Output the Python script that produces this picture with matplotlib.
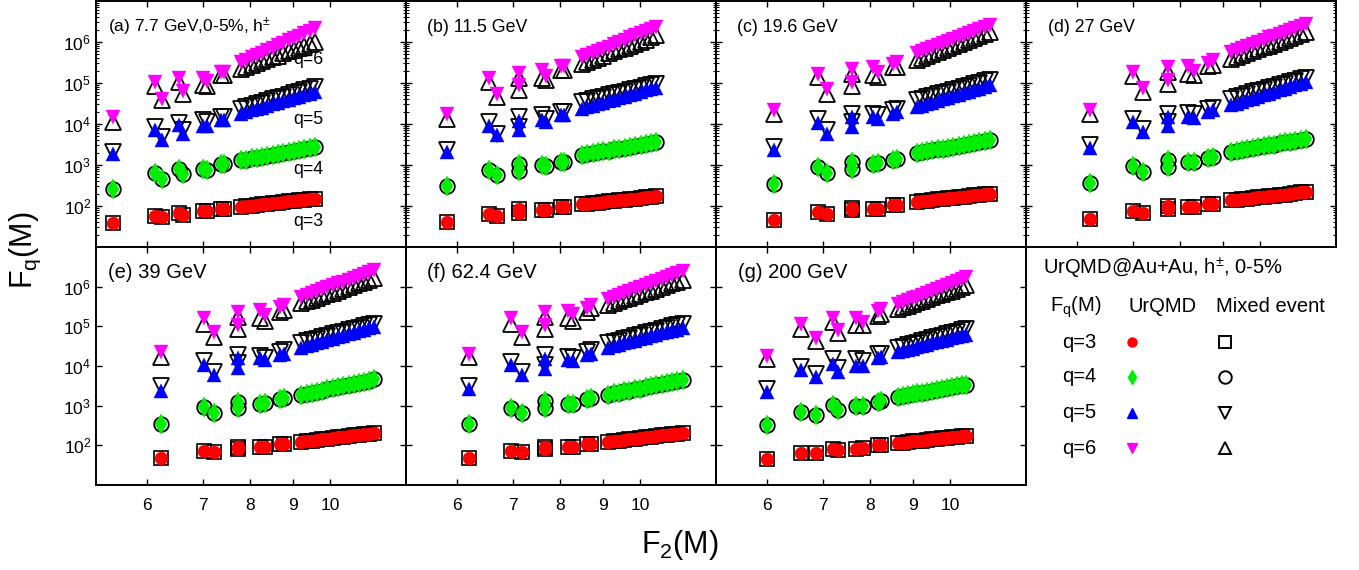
import numpy as np
import matplotlib
matplotlib.use("Agg")
import matplotlib.pyplot as plt
from matplotlib.ticker import LogLocator, NullFormatter, NullLocator

plt.rcParams['font.family'] = ['Liberation Sans', 'DejaVu Sans']
plt.rcParams['mathtext.fontset'] = 'custom'
plt.rcParams['mathtext.rm'] = 'Liberation Sans'
plt.rcParams['mathtext.it'] = 'Liberation Sans:italic'
plt.rcParams['mathtext.default'] = 'regular'

# F2(M) values (x) and log10 F_q(M).
# first 9 entries: isolated points, the other 15: the dense band at large M
A_X = [5.46, 6.13, 6.25, 6.56, 6.63, 7.01, 7.08, 7.38, 7.44,
       7.80, 7.91, 8.03, 8.15, 8.27, 8.39, 8.52, 8.64, 8.77, 8.90, 9.03, 9.17, 9.30, 9.44, 9.57]
A_Q3 = [1.59, 1.75, 1.72, 1.83, 1.77, 1.88, 1.88, 1.92, 1.92,
        1.98, 1.99, 2.01, 2.02, 2.04, 2.05, 2.07, 2.08, 2.09, 2.11, 2.12, 2.14, 2.15, 2.17, 2.18]
A_Q4 = [2.42, 2.80, 2.67, 2.91, 2.79, 2.91, 2.87, 3.02, 3.02,
        3.11, 3.13, 3.16, 3.18, 3.20, 3.23, 3.25, 3.27, 3.30, 3.32, 3.35, 3.37, 3.39, 3.42, 3.44]
A_Q5 = [3.28, 3.85, 3.62, 3.97, 3.76, 3.94, 3.94, 4.09, 4.09,
        4.25, 4.29, 4.33, 4.36, 4.40, 4.44, 4.48, 4.52, 4.55, 4.59, 4.63, 4.67, 4.70, 4.74, 4.78]
A_Q5_MIX = [3.32, 3.93, 3.68, 4.03, 3.85, 4.09, 4.05, 4.17, 4.17,
            4.37, 4.41, 4.45, 4.48, 4.52, 4.56, 4.60, 4.64, 4.67, 4.71, 4.75, 4.79, 4.82, 4.86, 4.90]
A_Q6 = [4.17, 5.02, 4.62, 5.11, 4.80, 5.11, 5.05, 5.27, 5.27,
        5.51, 5.57, 5.63, 5.69, 5.74, 5.80, 5.86, 5.92, 5.98, 6.04, 6.10, 6.15, 6.21, 6.27, 6.33]
A_Q6_MIX = [4.05, 4.92, 4.58, 5.02, 4.74, 4.94, 4.92, 5.19, 5.19,
            5.35, 5.40, 5.44, 5.49, 5.54, 5.58, 5.63, 5.67, 5.72, 5.77, 5.81, 5.86, 5.91, 5.95, 6.00]

B_X = [5.83, 6.56, 6.71, 7.13, 7.13, 7.59, 7.68, 8.02, 8.09,
       8.49, 8.62, 8.75, 8.88, 9.01, 9.15, 9.29, 9.43, 9.57, 9.71, 9.86, 10.01, 10.16, 10.31, 10.46]
B_Q3 = [1.61, 1.80, 1.75, 1.93, 1.84, 1.91, 1.91, 1.98, 1.98,
        2.04, 2.05, 2.07, 2.08, 2.10, 2.11, 2.13, 2.14, 2.15, 2.17, 2.18, 2.20, 2.21, 2.23, 2.24]
B_Q4 = [2.49, 2.87, 2.75, 3.02, 2.85, 2.99, 2.98, 3.07, 3.07,
        3.24, 3.26, 3.29, 3.31, 3.33, 3.35, 3.38, 3.40, 3.42, 3.45, 3.47, 3.49, 3.51, 3.54, 3.56]
B_Q5 = [3.32, 3.94, 3.72, 4.07, 3.85, 4.09, 4.05, 4.21, 4.21,
        4.37, 4.41, 4.44, 4.48, 4.52, 4.56, 4.59, 4.63, 4.67, 4.70, 4.74, 4.78, 4.82, 4.85, 4.89]
B_Q5_MIX = [3.37, 4.05, 3.76, 4.17, 3.93, 4.21, 4.13, 4.29, 4.29,
            4.54, 4.57, 4.60, 4.63, 4.67, 4.70, 4.73, 4.76, 4.79, 4.82, 4.85, 4.89, 4.92, 4.95, 4.98]
B_Q6 = [4.25, 5.13, 4.74, 5.24, 4.94, 5.31, 5.16, 5.41, 5.41,
        5.63, 5.68, 5.74, 5.79, 5.84, 5.89, 5.95, 6.00, 6.05, 6.11, 6.16, 6.21, 6.26, 6.32, 6.37]
B_Q6_MIX = [4.13, 5.02, 4.66, 5.13, 4.84, 5.11, 5.07, 5.31, 5.31,
            5.47, 5.52, 5.57, 5.62, 5.67, 5.72, 5.77, 5.82, 5.86, 5.91, 5.96, 6.01, 6.06, 6.11, 6.16]

C_X = [6.11, 6.92, 7.09, 7.59, 7.59, 8.06, 8.17, 8.52, 8.62,
       9.10, 9.23, 9.37, 9.51, 9.65, 9.79, 9.93, 10.08, 10.23, 10.38, 10.53, 10.69, 10.84, 11.00, 11.16]
C_Q3 = [1.65, 1.85, 1.81, 1.96, 1.90, 1.93, 1.93, 2.02, 2.02,
        2.10, 2.11, 2.13, 2.14, 2.16, 2.17, 2.19, 2.20, 2.21, 2.23, 2.24, 2.26, 2.27, 2.29, 2.30]
C_Q4 = [2.53, 2.95, 2.80, 3.07, 2.91, 3.03, 3.05, 3.13, 3.15,
        3.29, 3.31, 3.33, 3.36, 3.38, 3.40, 3.42, 3.45, 3.47, 3.49, 3.51, 3.53, 3.56, 3.58, 3.60]
C_Q5 = [3.37, 4.02, 3.76, 4.17, 3.93, 4.17, 4.13, 4.25, 4.29,
        4.41, 4.45, 4.49, 4.52, 4.56, 4.60, 4.64, 4.68, 4.71, 4.75, 4.79, 4.83, 4.86, 4.90, 4.94]
C_Q5_MIX = [3.44, 4.11, 3.85, 4.25, 4.05, 4.25, 4.21, 4.33, 4.37,
            4.58, 4.62, 4.65, 4.69, 4.72, 4.76, 4.79, 4.83, 4.86, 4.90, 4.93, 4.97, 5.00, 5.04, 5.07]
C_Q6 = [4.33, 5.23, 4.86, 5.35, 5.02, 5.39, 5.27, 5.47, 5.51,
        5.72, 5.77, 5.82, 5.87, 5.92, 5.97, 6.02, 6.07, 6.11, 6.16, 6.21, 6.26, 6.31, 6.36, 6.41]
C_Q6_MIX = [4.25, 5.15, 4.74, 5.23, 4.92, 5.19, 5.15, 5.39, 5.39,
            5.55, 5.60, 5.65, 5.70, 5.75, 5.80, 5.85, 5.90, 5.94, 5.99, 6.04, 6.09, 6.14, 6.19, 6.24]

D_X = [6.22, 7.01, 7.21, 7.72, 7.72, 8.17, 8.31, 8.64, 8.76,
       9.22, 9.36, 9.50, 9.64, 9.79, 9.94, 10.09, 10.24, 10.39, 10.55, 10.71, 10.87, 11.03, 11.20, 11.37]
D_Q3 = [1.69, 1.88, 1.83, 1.99, 1.93, 1.98, 1.98, 2.06, 2.06,
        2.14, 2.15, 2.17, 2.18, 2.20, 2.21, 2.23, 2.24, 2.25, 2.27, 2.28, 2.30, 2.31, 2.33, 2.34]
D_Q4 = [2.56, 2.97, 2.83, 3.11, 2.95, 3.07, 3.07, 3.17, 3.20,
        3.32, 3.34, 3.37, 3.39, 3.41, 3.43, 3.46, 3.48, 3.50, 3.53, 3.55, 3.57, 3.59, 3.62, 3.64]
D_Q5 = [3.42, 4.05, 3.80, 4.17, 3.94, 4.17, 4.15, 4.29, 4.33,
        4.46, 4.50, 4.54, 4.58, 4.62, 4.66, 4.70, 4.74, 4.78, 4.82, 4.86, 4.90, 4.94, 4.98, 5.02]
D_Q5_MIX = [3.48, 4.13, 3.89, 4.25, 4.05, 4.27, 4.25, 4.37, 4.40,
            4.62, 4.66, 4.69, 4.73, 4.77, 4.80, 4.84, 4.88, 4.91, 4.95, 4.98, 5.02, 5.06, 5.09, 5.13]
D_Q6 = [4.35, 5.27, 4.89, 5.39, 5.07, 5.41, 5.29, 5.49, 5.55,
        5.76, 5.81, 5.86, 5.91, 5.96, 6.01, 6.06, 6.11, 6.15, 6.20, 6.25, 6.30, 6.35, 6.40, 6.45]
D_Q6_MIX = [4.25, 5.16, 4.78, 5.27, 4.98, 5.21, 5.19, 5.41, 5.43,
            5.59, 5.64, 5.68, 5.73, 5.78, 5.82, 5.87, 5.91, 5.96, 6.01, 6.05, 6.10, 6.15, 6.19, 6.24]

E_X = [6.23, 7.03, 7.22, 7.73, 7.73, 8.21, 8.33, 8.68, 8.78,
       9.22, 9.36, 9.49, 9.63, 9.78, 9.92, 10.07, 10.22, 10.37, 10.52, 10.67, 10.83, 10.99, 11.15, 11.31]
E_Q3 = [1.67, 1.86, 1.84, 1.96, 1.90, 1.97, 1.97, 2.03, 2.03,
        2.09, 2.11, 2.12, 2.14, 2.15, 2.17, 2.18, 2.20, 2.22, 2.23, 2.25, 2.26, 2.28, 2.29, 2.31]
E_Q4 = [2.54, 2.96, 2.82, 3.09, 2.94, 3.05, 3.07, 3.17, 3.20,
        3.27, 3.30, 3.33, 3.35, 3.38, 3.41, 3.44, 3.47, 3.49, 3.52, 3.55, 3.58, 3.60, 3.63, 3.66]
E_Q5 = [3.38, 4.02, 3.78, 4.19, 3.95, 4.19, 4.14, 4.27, 4.31,
        4.46, 4.50, 4.54, 4.57, 4.61, 4.65, 4.69, 4.73, 4.76, 4.80, 4.84, 4.88, 4.91, 4.95, 4.99]
E_Q5_MIX = [3.49, 4.12, 3.86, 4.27, 4.08, 4.24, 4.20, 4.35, 4.40,
            4.59, 4.62, 4.66, 4.69, 4.73, 4.76, 4.80, 4.83, 4.86, 4.90, 4.93, 4.97, 5.00, 5.04, 5.07]
E_Q6 = [4.35, 5.22, 4.86, 5.37, 5.03, 5.41, 5.28, 5.49, 5.55,
        5.75, 5.80, 5.85, 5.89, 5.94, 5.99, 6.04, 6.09, 6.13, 6.18, 6.23, 6.28, 6.32, 6.37, 6.42]
E_Q6_MIX = [4.23, 5.07, 4.73, 5.24, 4.93, 5.22, 5.13, 5.37, 5.41,
            5.58, 5.63, 5.67, 5.72, 5.76, 5.81, 5.85, 5.90, 5.94, 5.99, 6.03, 6.08, 6.12, 6.17, 6.21]

F_X = [6.20, 6.97, 7.19, 7.66, 7.66, 8.17, 8.28, 8.62, 8.72,
       9.14, 9.28, 9.42, 9.56, 9.70, 9.85, 10.00, 10.15, 10.30, 10.45, 10.61, 10.77, 10.93, 11.09, 11.26]
F_Q3 = [1.67, 1.86, 1.84, 1.96, 1.90, 1.97, 1.97, 2.03, 2.03,
        2.09, 2.11, 2.12, 2.14, 2.15, 2.17, 2.18, 2.20, 2.22, 2.23, 2.25, 2.26, 2.28, 2.29, 2.31]
F_Q4 = [2.54, 2.95, 2.82, 3.11, 2.94, 3.03, 3.05, 3.16, 3.19,
        3.28, 3.31, 3.33, 3.36, 3.38, 3.41, 3.43, 3.46, 3.49, 3.51, 3.54, 3.56, 3.59, 3.61, 3.64]
F_Q5 = [3.41, 4.02, 3.78, 4.17, 3.93, 4.14, 4.12, 4.27, 4.31,
        4.46, 4.50, 4.53, 4.57, 4.60, 4.64, 4.67, 4.71, 4.75, 4.78, 4.82, 4.85, 4.89, 4.92, 4.96]
F_Q5_MIX = [3.49, 4.10, 3.85, 4.27, 4.03, 4.23, 4.20, 4.35, 4.40,
            4.57, 4.61, 4.64, 4.68, 4.71, 4.75, 4.78, 4.82, 4.86, 4.89, 4.93, 4.96, 5.00, 5.03, 5.07]
F_Q6 = [4.31, 5.20, 4.85, 5.35, 5.03, 5.38, 5.30, 5.45, 5.54,
        5.70, 5.75, 5.80, 5.85, 5.90, 5.95, 6.00, 6.05, 6.10, 6.15, 6.20, 6.25, 6.30, 6.35, 6.40]
F_Q6_MIX = [4.23, 5.07, 4.73, 5.24, 4.93, 5.20, 5.13, 5.37, 5.45,
            5.54, 5.59, 5.63, 5.68, 5.72, 5.77, 5.81, 5.86, 5.90, 5.95, 5.99, 6.04, 6.08, 6.13, 6.17]

G_X = [6.00, 6.60, 6.87, 7.20, 7.31, 7.68, 7.84, 8.17, 8.25,
       8.64, 8.76, 8.88, 9.00, 9.12, 9.25, 9.38, 9.51, 9.64, 9.77, 9.90, 10.04, 10.18, 10.32, 10.46]
G_Q3 = [1.65, 1.81, 1.81, 1.92, 1.87, 1.92, 1.93, 2.00, 2.01,
        2.06, 2.07, 2.09, 2.10, 2.11, 2.12, 2.14, 2.15, 2.16, 2.18, 2.19, 2.20, 2.21, 2.23, 2.24]
G_Q4 = [2.51, 2.84, 2.77, 3.02, 2.88, 2.99, 2.99, 3.09, 3.11,
        3.22, 3.24, 3.26, 3.29, 3.31, 3.33, 3.35, 3.38, 3.40, 3.42, 3.44, 3.46, 3.49, 3.51, 3.53]
G_Q5 = [3.34, 3.89, 3.72, 4.06, 3.86, 4.00, 4.00, 4.20, 4.23,
        4.35, 4.38, 4.41, 4.44, 4.48, 4.51, 4.54, 4.57, 4.60, 4.63, 4.66, 4.70, 4.73, 4.76, 4.79]
G_Q5_MIX = [3.43, 3.97, 3.81, 4.17, 3.95, 4.17, 4.12, 4.29, 4.31,
            4.46, 4.49, 4.53, 4.56, 4.59, 4.63, 4.66, 4.70, 4.73, 4.76, 4.80, 4.83, 4.86, 4.90, 4.93]
G_Q6 = [4.25, 5.05, 4.71, 5.22, 4.90, 5.22, 5.11, 5.39, 5.43,
        5.56, 5.61, 5.66, 5.71, 5.75, 5.80, 5.85, 5.90, 5.95, 6.00, 6.05, 6.09, 6.14, 6.19, 6.24]
G_Q6_MIX = [4.17, 4.94, 4.63, 5.10, 4.82, 5.03, 5.03, 5.25, 5.31,
            5.44, 5.48, 5.52, 5.57, 5.61, 5.65, 5.69, 5.73, 5.78, 5.82, 5.86, 5.90, 5.95, 5.99, 6.03]

LABELS = ["(a) 7.7 GeV,0-5%, h$^{\\pm}$", "(b) 11.5 GeV", "(c) 19.6 GeV", "(d) 27 GeV",
          "(e) 39 GeV", "(f) 62.4 GeV", "(g) 200 GeV"]
X_TICKS = [6, 7, 8, 9, 10]
Y_TICKS = [1e2, 1e3, 1e4, 1e5, 1e6]
Q_VALUES = [3, 4, 5, 6]

PANELS = [
    (A_X, A_Q3, A_Q4, A_Q5, A_Q5_MIX, A_Q6, A_Q6_MIX),
    (B_X, B_Q3, B_Q4, B_Q5, B_Q5_MIX, B_Q6, B_Q6_MIX),
    (C_X, C_Q3, C_Q4, C_Q5, C_Q5_MIX, C_Q6, C_Q6_MIX),
    (D_X, D_Q3, D_Q4, D_Q5, D_Q5_MIX, D_Q6, D_Q6_MIX),
    (E_X, E_Q3, E_Q4, E_Q5, E_Q5_MIX, E_Q6, E_Q6_MIX),
    (F_X, F_Q3, F_Q4, F_Q5, F_Q5_MIX, F_Q6, F_Q6_MIX),
    (G_X, G_Q3, G_Q4, G_Q5, G_Q5_MIX, G_Q6, G_Q6_MIX),
]

RED, GREEN, BLUE, MAGENTA = '#ff0000', '#00ee00', '#0000ff', '#ff00ff'

W, H = 1359, 570
fig = plt.figure(figsize=(W / 100, H / 100), dpi=100)

cols = [96, 406, 716, 1026, 1336]
rows = [(1, 247), (247, 485)]
grid = [(0, 0), (0, 1), (0, 2), (0, 3), (1, 0), (1, 1), (1, 2)]
label_dx = [12, 21, 21, 22, 12, 21, 22]
label_fs = [12.5, 12.8, 12.8, 12.8, 14.5, 14.5, 14.5]


def px_box(x0, ytop, x1, ybot):
    return [x0 / W, 1 - ybot / H, (x1 - x0) / W, (ybot - ytop) / H]


def draw_panel(ax, data):
    x, q3, q4, q5, q5m, q6, q6m = data
    x = np.asarray(x)
    f = lambda v: 10 ** np.asarray(v)
    # mixed event: open black markers underneath
    ax.plot(x, f(q3), ls='none', marker='s', ms=10, mfc='none', mec='k', mew=1.2)
    ax.plot(x, f(q4), ls='none', marker='o', ms=10.5, mfc='none', mec='k', mew=1.3)
    ax.plot(x, f(q5m), ls='none', marker='v', ms=11, mfc='none', mec='k', mew=1.3)
    ax.plot(x, f(q6m), ls='none', marker='^', ms=11, mfc='none', mec='k', mew=1.3)
    # UrQMD filled markers on top
    ax.plot(x, f(q3), ls='none', marker='o', ms=9.3, color=RED, mew=0.3)
    ax.plot(x, f(q4), ls='none', marker='d', ms=10, color=GREEN, mew=0.3)
    ax.plot(x, f(q5), ls='none', marker='^', ms=10, color=BLUE, mew=0.3)
    ax.plot(x, f(q6), ls='none', marker='v', ms=10, color=MAGENTA, mew=0.3)


for i, data in enumerate(PANELS):
    r, c = grid[i]
    ax = fig.add_axes(px_box(cols[c], rows[r][0], cols[c + 1], rows[r][1]))
    draw_panel(ax, data)
    ax.set_xscale('log')
    ax.set_yscale('log')
    ax.set_xlim(5.2, 12.35)
    ax.set_ylim(10, 1e7)
    ax.set_xticks(X_TICKS)
    ax.xaxis.set_minor_locator(NullLocator())
    ax.set_yticks(Y_TICKS)
    ax.yaxis.set_minor_locator(LogLocator(base=10, subs=np.arange(2, 10)))
    ax.yaxis.set_minor_formatter(NullFormatter())
    if r == 1:
        ax.set_xticklabels([str(t) for t in X_TICKS])
    else:
        ax.set_xticklabels([])
    if c == 0:
        ax.set_yticklabels(['$10^{%d}$' % int(np.log10(t)) for t in Y_TICKS])
    else:
        ax.set_yticklabels([])
    ax.tick_params(which='both', direction='in', top=True, right=True, labelsize=12.5)
    ax.tick_params(which='major', length=4, width=1)
    ax.tick_params(which='minor', length=2, width=0.8)
    ax.tick_params(axis='x', pad=9)
    for s in ax.spines.values():
        s.set_linewidth(1.4)
    hgt = rows[r][1] - rows[r][0]
    ax.text(label_dx[i] / 310, 1 - 26 / hgt, LABELS[i], transform=ax.transAxes,
            ha='left', va='center', fontsize=label_fs[i])
    if i == 0:
        for q, yp in zip(Q_VALUES, [220, 168, 118, 58]):
            ax.text((308 - 96) / 310, 1 - yp / 246, 'q=%d' % q, transform=ax.transAxes,
                    ha='center', va='center', fontsize=12.8)

# overlay in pixel coordinates for the axis titles and the legend table
lay = fig.add_axes([0, 0, 1, 1])
lay.set_xlim(0, W)
lay.set_ylim(H, 0)
lay.axis('off')

lay.text(25, 250, 'F$_q$(M)', rotation=90, ha='center', va='center', fontsize=22)
lay.text(680, 545, 'F$_2$(M)', ha='center', va='center', fontsize=22)

lay.text(1043, 268, 'UrQMD@Au+Au, h$^{\\pm}$, 0-5%', ha='left', va='center', fontsize=14.5)
lay.text(1050, 307, 'F$_q$(M)', ha='left', va='center', fontsize=14.5)
lay.text(1128, 307, 'UrQMD', ha='left', va='center', fontsize=14.5)
lay.text(1216, 307, 'Mixed event', ha='left', va='center', fontsize=14.5)

urqmd_style = [('o', RED, 6.5), ('d', GREEN, 7.5), ('^', BLUE, 7.5), ('v', MAGENTA, 7.5)]
mixed_style = ['s', 'o', 'v', '^']
for k, q in enumerate(Q_VALUES):
    yy = [342, 377, 413, 448][k]
    lay.text(1062, yy, 'q=%d' % q, ha='left', va='center', fontsize=14.5)
    m, col, ms = urqmd_style[k]
    lay.plot([1132], [yy], ls='none', marker=m, ms=ms, color=col)
    lay.plot([1225], [yy], ls='none', marker=mixed_style[k], ms=9, mfc='none', mec='k', mew=1.4)

fig.savefig('out.png', dpi=100)
